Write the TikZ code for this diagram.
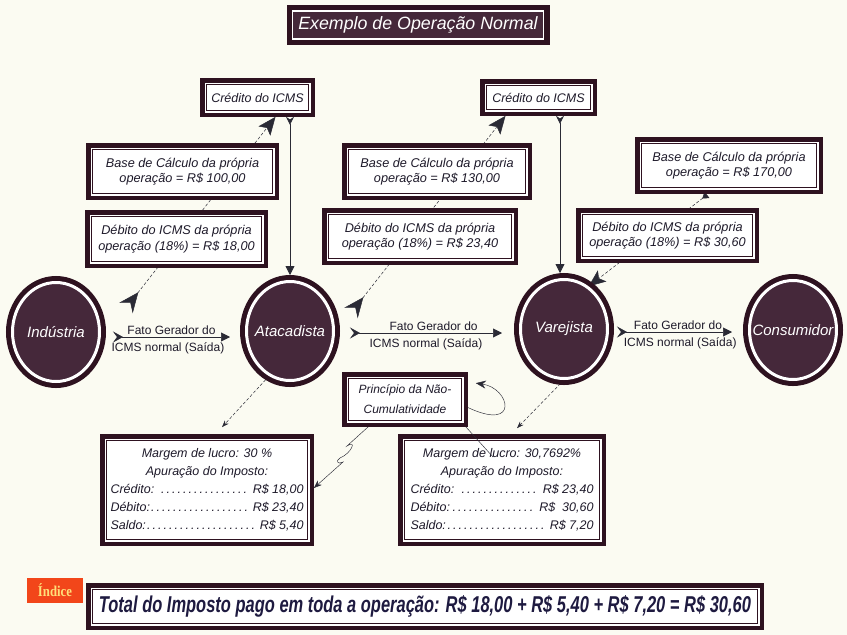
\documentclass[tikz,border=0pt]{standalone}
\usepackage{fontspec}
\setmainfont{Liberation Sans}
\newfontfamily\idxfont{Liberation Serif}
\usepackage{graphicx}
\usetikzlibrary{arrows.meta,shapes.geometric,calc}
\definecolor{dk}{HTML}{2E1220}
\definecolor{cf}{HTML}{45283A}
\definecolor{bgc}{HTML}{FBFBF2}
\definecolor{ln}{HTML}{2A2A35}
\definecolor{tx}{HTML}{1E1A2A}
\definecolor{idx}{HTML}{F2461A}
\definecolor{idxt}{HTML}{FFE07A}
\definecolor{tot}{HTML}{1E1A40}
\pgfdeclarelayer{bg}
\pgfdeclarelayer{lines}
\pgfsetlayers{bg,lines,main}
\tikzset{
  box/.style={rectangle, fill=white, draw=dk, line width=0.7pt,
    preaction={draw=dk, line width=13pt},
    preaction={draw=white, line width=4pt},
    inner sep=2pt, align=center, text=tx,
    font=\fontsize{12.7}{15.5}\selectfont\itshape},
  titlebox/.style={rectangle, fill=cf, draw=white, line width=1.2pt,
    preaction={draw=dk, line width=12pt},
    inner sep=2pt, text=white, font=\fontsize{17.8}{20}\selectfont\itshape},
  circ/.style={ellipse, fill=cf, draw=white, line width=3pt,
    preaction={draw=dk, line width=13pt},
    minimum width=87pt, minimum height=99pt, inner sep=0pt,
    text=white, font=\fontsize{15}{18}\selectfont\itshape},
  harr/.style={draw=ln, line width=0.6pt,
    {Stealth[reversed,length=10pt,width=11pt,inset=4pt]}-{Triangle[length=9pt,width=9pt]}},
  lbl/.style={text=tx, font=\fontsize{12}{14}\selectfont, inner sep=0pt},
  dsh/.style={draw=ln, line width=0.5pt, dash pattern=on 3pt off 2pt},
  bigtips/.style={{Stealth[reversed,length=20pt,width=17pt,inset=7pt]}-{Stealth[length=18pt,width=15pt,inset=4pt]}},
  vline/.style={draw=ln, line width=0.8pt,
    {Stealth[reversed,length=8pt,width=8pt]}-{Triangle[length=9pt,width=9pt]}},
  smallarr/.style={-{Stealth[length=7pt,width=5pt]}},
  thinl/.style={draw=ln, line width=0.45pt},
}
\begin{document}
\begin{tikzpicture}[x=1pt,y=-1pt]
\useasboundingbox (0,0) rectangle (847,635);
\begin{pgfonlayer}{bg}
\fill[bgc] (0,0) rectangle (847,635);
\end{pgfonlayer}

% title
\node[titlebox, minimum width=251pt, minimum height=28pt] (title) at (418,25) {Exemplo de Operação Normal};

% credit boxes
\node[box, minimum width=102pt, minimum height=26pt, font=\fontsize{12.5}{15}\selectfont\itshape] (cr1) at (257.5,97.5) {Crédito do ICMS};
\node[box, minimum width=104pt, minimum height=24pt, font=\fontsize{12.5}{15}\selectfont\itshape] (cr2) at (538.5,97.5) {Crédito do ICMS};

% base and debit boxes
\node[box, minimum width=180pt, minimum height=44pt] (base1) at (182.5,171.5) {Base de Cálculo da própria\\operação = R\$ 100,00};
\node[box, minimum width=170pt, minimum height=45pt] (deb1) at (176.5,239) {Débito do ICMS da própria\\operação (18\%) = R\$ 18,00};
\node[box, minimum width=177pt, minimum height=44pt] (base2) at (437,171.5) {Base de Cálculo da própria\\operação = R\$ 130,00};
\node[box, minimum width=183pt, minimum height=44pt] (deb2) at (420,236.5) {Débito do ICMS da própria\\operação (18\%) = R\$ 23,40};
\node[box, minimum width=175pt, minimum height=44pt] (base3) at (729,165.5) {Base de Cálculo da própria\\operação = R\$ 170,00};
\node[box, minimum width=170pt, minimum height=42pt] (deb3) at (667.5,235.5) {Débito do ICMS da própria\\operação (18\%) = R\$ 30,60};

% circles
\node[circ] (ind) at (56,332) {\makebox[0pt]{Indústria}};
\node[circ] (ata) at (290,331) {\makebox[0pt]{Atacadista}};
\node[circ] (var) at (564,329) {\makebox[0pt]{Varejista}};
\node[circ] (con) at (793,330) {\makebox[0pt]{Consumidor}};

% principle box
\node[box, minimum width=113pt, minimum height=42pt, font=\fontsize{12}{20}\selectfont\itshape] (prin) at (405,399.5) {Princípio da Não-\\Cumulatividade};

% margin boxes
\node[box, minimum width=201pt, minimum height=99pt, font=\fontsize{12.5}{18}\selectfont\itshape] (mar1) at (207,490)
 {Margem de lucro: 30 \%\\Apuração do Imposto:\\
  \makebox[193pt]{Crédito: \dotfill\ R\$ 18,00}\\
  \makebox[193pt]{Débito:\dotfill\ R\$ 23,40}\\
  \makebox[193pt]{Saldo:\dotfill\ R\$ 5,40}};
\node[box, minimum width=195pt, minimum height=99pt, font=\fontsize{12.5}{18}\selectfont\itshape] (mar2) at (502,490)
 {Margem de lucro: 30,7692\%\\Apuração do Imposto:\\
  \makebox[183pt]{Crédito: \dotfill\ R\$ 23,40}\\
  \makebox[183pt]{Débito:\dotfill\ R\$\ \ 30,60}\\
  \makebox[183pt]{Saldo:\dotfill\ R\$ 7,20}};

% bottom
\node[rectangle, fill=idx, minimum width=56pt, minimum height=25pt, inner sep=0pt, text=idxt,
  font=\idxfont\bfseries\fontsize{15}{17}\selectfont] (indice) at (55,590.5) {\scalebox{0.85}[1]{Índice}};
\node[box, minimum width=665pt, minimum height=34pt, inner sep=0pt] (total) at (425,606.5)
 {\textcolor{tot}{\resizebox{652pt}{17pt}{\bfseries\itshape Total do Imposto pago em toda a operação: R\$ 18,00 + R\$ 5,40 + R\$ 7,20 = R\$ 30,60}}};

% coordinates for free ends
\coordinate (ta) at ($(ind)+(70,-24)$);
\coordinate (tb) at ($(ata)+(61,-18)$);
\coordinate (m2l) at (493,457);

\begin{pgfonlayer}{lines}
% dashed chains to credit boxes
\draw[dsh, bigtips] (ta) -- ($(cr1.south)+(18,6)$);
\draw[dsh, bigtips] (tb) -- ($(cr2.south)+(-33,6)$);
\draw[dsh, {Triangle[reversed,length=6pt,width=8pt]}-{Stealth[length=17pt,width=14pt,inset=4pt]}]
  ($(base3.south)+(-22,7)$) -- (var.60);
% credit to next circle
\draw[vline] ($(cr1.south)+(32.5,6)$) -- ($(ata.north)+(0,-5)$);
\draw[vline] ($(cr2.south)+(21.5,6)$) -- ($(var.north)+(-4,-5)$);
% circles to margin boxes
\draw[dsh, smallarr] (ata.-115) -- ($(mar1.north)+(15,-13)$);
\draw[dsh, smallarr] (var.south) -- ($(mar2.north)+(15,-12)$);
% principle box connectors
\draw[thinl, -{Stealth[length=10pt,width=8pt]}] ($(prin.east)+(6,8)$) .. controls (520,432) and (510,388) .. ($(prin.north east)+(14,5)$);
\draw[thinl, -{Stealth[length=8pt,width=6pt]}] ($(prin.south west)+(20,6)$) -- (347,446)
  .. controls (357,439) and (352,453) .. (340,458)
  .. controls (335,461) and (338,465) .. (343,462)
  -- ($(mar1.east)+(6,-2)$);
\end{pgfonlayer}

\draw[thinl] ($(prin.south east)+(4,6)$) -- (m2l);

% horizontal flows
\draw[harr] ($(ind.east)+(12,5)$) -- node[lbl, above=2.5pt, pos=0.5]{Fato Gerador do} node[lbl, below=5pt, pos=0.47]{ICMS normal (Saída)} ($(ata.west)+(-15,6)$);
\draw[harr] ($(ata.east)+(15,2)$) -- node[lbl, above=2.5pt, pos=0.55]{Fato Gerador do} node[lbl, below=5pt, pos=0.5]{ICMS normal (Saída)} ($(var.west)+(-17,4)$);
\draw[harr] ($(var.east)+(8,3)$) -- node[lbl, above=2.5pt, pos=0.53]{Fato Gerador do} node[lbl, below=5pt, pos=0.55]{ICMS normal (Saída)} ($(con.west)+(-16,2)$);
\end{tikzpicture}
\end{document}
